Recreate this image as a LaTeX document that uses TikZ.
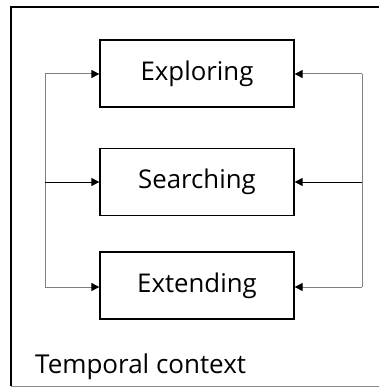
\documentclass[tikz,border=0pt]{standalone}
\usepackage{fontspec}
\setmainfont{Open Sans}
\usetikzlibrary{arrows.meta}
\begin{document}
\begin{tikzpicture}[x=1pt,y=-1pt,
  stagebox/.style={draw=black,line width=1.3pt,minimum width=194pt,minimum height=67pt,inner sep=0pt,font=\fontsize{25.8}{28}\selectfont},
  conn/.style={draw=black!50,line width=1pt},
  connd/.style={draw=black,line width=1pt},
  tip/.style={-{Triangle[length=8pt,width=8pt,color=black]}}]
\useasboundingbox (0,0) rectangle (379,387);
\fill[white] (0,0) rectangle (379,387);
\draw[line width=1.3pt] (11,386) -- (11,7) -- (379,7);
\draw[line width=1pt,black!45] (11,386) -- (379,386);
\node[stagebox] (exp) at (197,73.5) {Exploring};
\node[stagebox] (sea) at (197,182) {Searching};
\node[stagebox] (ext) at (197,285.5) {Extending};
\coordinate (lt) at (45,74);
\coordinate (lm) at (45,182);
\coordinate (lb) at (45,287);
\coordinate (rt) at (362,74);
\coordinate (rm) at (362,182);
\coordinate (rb) at (362,287);
\draw[conn] (lt) -- (lb);
\draw[conn] (rt) -- (rb);
\draw[conn,tip] (lt) -- (lt -| exp.west);
\draw[connd,tip] (lm) -- (lm -| sea.west);
\draw[conn,tip] (lb) -- (lb -| ext.west);
\draw[conn,tip] (rt) -- (rt -| exp.east);
\draw[connd,tip] (rm) -- (rm -| sea.east);
\draw[conn,tip] (rb) -- (rb -| ext.east);
\node[anchor=base west,inner sep=0pt,font=\fontsize{26}{28}\selectfont] (lbl) at (35,373) {Temporal context};
\end{tikzpicture}
\end{document}
